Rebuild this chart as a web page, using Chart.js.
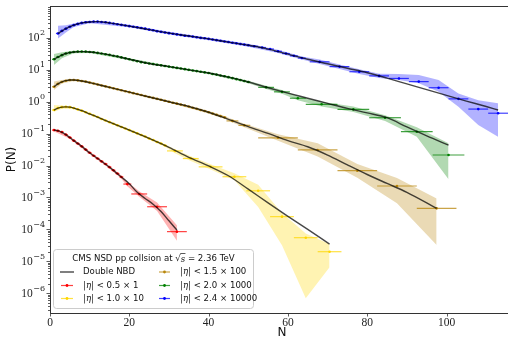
<!DOCTYPE html>
<html>
<head>
<meta charset="utf-8">
<script src="https://cdn.jsdelivr.net/npm/chart.js@4.4.0/dist/chart.umd.min.js"></script>
<style>
  html, body { margin: 0; padding: 0; background: #fff; }
</style>
</head>
<body>
<canvas id="myChart" width="512" height="339"></canvas>
<script>
// integer N positions for the dense (bin width 1) part of each series
const range = (a, b) => { const r = []; for (let n = a; n <= b; n++) r.push(n); return r; };
const dense = (k) => Array(k).fill(0.5);

// |eta| < 0.5  x 1
const redN = range(1, 18).concat([19.5, 22.5, 27, 32]);
const redP = [0.129, 0.123, 0.112, 0.0933, 0.0759, 0.0603, 0.0490, 0.0398, 0.0316, 0.0251,
  0.0204, 0.0166, 0.0135, 0.0112, 0.00891, 0.00708, 0.00562, 0.00437,
  0.00263, 0.00129, 0.000513, 0.0000851];
const redErr = dense(18).concat([1, 2, 2.5, 2.5]);
const redFitN = [1, 2, 3, 4, 6, 8, 10, 12, 14, 16, 18, 20, 22, 24, 26, 28, 30, 32];
const redFitP = [0.129, 0.123, 0.110, 0.0933, 0.0603, 0.0398, 0.0251, 0.0166, 0.0110, 0.00708,
  0.00437, 0.00269, 0.00145, 0.000933, 0.000617, 0.000363, 0.000186, 0.0000955];
const redBandN = [1, 5, 10, 15, 18, 19.5, 22.5, 27, 32];
const redLo = [0.117, 0.0692, 0.0229, 0.00813, 0.00389, 0.00224, 0.00105, 0.000380, 0.0000437];
const redHi = [0.141, 0.0832, 0.0275, 0.00977, 0.00490, 0.00309, 0.00158, 0.000692, 0.000135];

// |eta| < 1.0  x 10
const yelN = range(1, 29).concat([31.5, 35.5, 40.5, 46.5, 52.5, 58.5, 64.5, 70.5]);
const yelP = [0.550, 0.631, 0.676, 0.692, 0.676, 0.631, 0.575, 0.525, 0.468, 0.417,
  0.372, 0.331, 0.288, 0.257, 0.229, 0.204, 0.182, 0.162, 0.145, 0.129,
  0.115, 0.102, 0.0912, 0.0813, 0.0708, 0.0631, 0.0550, 0.0490, 0.0427,
  0.0288, 0.0166, 0.00912, 0.00447, 0.00162, 0.000251, 0.0000550, 0.0000200];
const yelErr = dense(29).concat([2, 2, 3, 3, 3, 3, 3, 3]);
const yelFitN = [1, 2, 3, 4, 5, 6, 8, 10, 12, 15, 20, 25, 30, 35, 40, 45, 50, 55, 60, 65, 70.5];
const yelFitP = [0.550, 0.631, 0.676, 0.692, 0.676, 0.631, 0.525, 0.417, 0.331, 0.229, 0.129,
  0.0708, 0.0372, 0.0182, 0.00977, 0.00479, 0.00182, 0.000676, 0.000257, 0.000100, 0.0000347];
const yelBandN = [1, 3, 6, 10, 15, 20, 25, 29, 31.5, 35.5, 40.5, 46.5, 52.5, 58.5, 64.5, 70.5];
const yelLo = [0.490, 0.603, 0.589, 0.389, 0.214, 0.120, 0.0661, 0.0389, 0.0245, 0.0138,
  0.00759, 0.00347, 0.000501, 0.0000316, 0.000000692, 0.00000646];
const yelHi = [0.794, 0.759, 0.676, 0.447, 0.245, 0.138, 0.0759, 0.0468, 0.0324, 0.0195,
  0.0110, 0.00575, 0.00251, 0.000324, 0.0000741, 0.0000347];

// |eta| < 1.5  x 100
const tanN = range(1, 44).concat([46, 49, 57.5, 67.5, 77.5, 87.5, 97.5]);
const tanP = [2.95, 3.63, 4.17, 4.57, 4.79, 4.79, 4.68, 4.47, 4.27, 3.98,
  3.72, 3.47, 3.24, 3.02, 2.82, 2.63, 2.45, 2.29, 2.14, 2.00,
  1.86, 1.74, 1.62, 1.51, 1.41, 1.32, 1.23, 1.15, 1.07, 1.00,
  0.933, 0.871, 0.813, 0.759, 0.708, 0.646, 0.603, 0.550, 0.513, 0.468,
  0.427, 0.389, 0.355, 0.324,
  0.251, 0.182, 0.0741, 0.0309, 0.00692, 0.00229, 0.000457];
const tanErr = dense(44).concat([1.5, 1.5, 5, 5, 5, 5, 5]);
const tanFitN = [1, 2, 3, 4, 5, 6, 8, 10, 12, 15, 20, 25, 30, 35, 40, 45, 50, 55, 60, 65, 70, 75, 80, 85, 90, 97.5];
const tanFitP = [2.95, 3.63, 4.17, 4.57, 4.79, 4.79, 4.47, 3.98, 3.47, 2.82, 2.00, 1.41, 1.00,
  0.708, 0.468, 0.282, 0.166, 0.102, 0.0603, 0.0389, 0.0214, 0.0105, 0.00525, 0.00275, 0.00145, 0.000457];
const tanBandN = [1, 3, 6, 10, 20, 30, 40, 44, 46, 49, 57.5, 67.5, 77.5, 87.5, 97.5];
const tanLo = [2.34, 3.72, 4.47, 3.72, 1.86, 0.933, 0.427, 0.295, 0.224, 0.158, 0.0603, 0.0191, 0.00417, 0.000661, 0.0000324];
const tanHi = [4.27, 4.79, 5.25, 4.37, 2.14, 1.07, 0.513, 0.355, 0.282, 0.204, 0.0955, 0.0501, 0.0112, 0.00407, 0.000933];

// |eta| < 2.0  x 1000
const grnN = range(1, 50).concat([54.5, 58.5, 62.5, 68.5, 76.5, 84.5, 92.5, 100.5]);
const grnP = [21.4, 25.1, 28.8, 32.4, 34.7, 36.3, 37.2, 37.2, 37.2, 36.3,
  35.5, 33.9, 32.4, 30.9, 29.5, 27.5, 26.3, 24.5, 22.9, 21.4,
  20.0, 18.6, 17.4, 16.6, 15.8, 15.1, 14.5, 13.8, 13.2, 12.6,
  12.0, 11.5, 11.0, 10.5, 10.0, 9.55, 9.12, 8.71, 8.32, 7.94,
  7.41, 7.08, 6.61, 6.31, 5.89, 5.50, 5.13, 4.79, 4.47, 4.17,
  2.82, 2.04, 1.29, 0.832, 0.575, 0.316, 0.115, 0.0214];
const grnErr = dense(50).concat([2, 2, 2, 4, 4, 4, 4, 4]);
const grnFitN = [1, 2, 3, 4, 5, 6, 8, 10, 12, 15, 20, 25, 30, 35, 40, 45, 50, 55, 60, 65, 70, 75, 80, 85, 90, 95, 100.5];
const grnFitP = [21.4, 25.1, 28.8, 32.4, 34.7, 36.3, 37.2, 36.3, 33.9, 29.5, 21.4, 15.8, 12.6,
  10.0, 7.94, 5.89, 4.17, 2.75, 1.86, 1.29, 0.891, 0.617, 0.447, 0.316, 0.162, 0.0851, 0.0437];
const grnBandN = [1, 3, 6, 10, 20, 30, 40, 50, 54.5, 58.5, 62.5, 68.5, 76.5, 84.5, 92.5, 100.5];
const grnLo = [14.1, 22.9, 33.1, 33.9, 20.0, 11.7, 7.41, 3.80, 2.51, 1.78, 1.12, 0.708, 0.479, 0.251, 0.0794, 0.00372];
const grnHi = [31.6, 35.5, 39.8, 38.9, 22.9, 13.5, 8.51, 4.57, 3.16, 2.34, 1.51, 1.00, 0.708, 0.380, 0.158, 0.0501];

// |eta| < 2.4  x 10000
const bluN = range(2, 50).concat([51.5, 53.5, 55.5, 57.5, 59.5, 61.5, 63.5, 68, 73, 78, 83, 88, 93, 98, 103, 108, 113]);
const bluP = [138, 166, 195, 224, 251, 275, 295, 309, 316,
  324, 324, 316, 309, 295, 282, 269, 257, 245, 234,
  224, 214, 204, 195, 182, 174, 162, 155, 148, 141,
  135, 129, 123, 117, 115, 110, 105, 100, 97.7, 93.3,
  89.1, 85.1, 81.3, 77.6, 74.1, 70.8, 67.6, 64.6, 61.7, 58.9,
  55.0, 50.1, 44.7, 38.0, 32.4, 27.5, 23.4,
  17.8, 12.6, 8.71, 6.46, 5.37, 4.27, 2.75, 1.23, 0.589, 0.437];
const bluErr = dense(49).concat([1, 1, 1, 1, 1, 1, 1, 2.5, 2.5, 2.5, 2.5, 2.5, 2.5, 2.5, 2.5, 2.5, 2.5]);
const bluFitN = [2, 4, 6, 8, 10, 12, 15, 20, 25, 30, 35, 40, 45, 50, 55, 60, 65, 70, 75, 80, 85, 90, 95, 100, 105, 110, 113];
const bluFitP = [138, 195, 251, 295, 316, 324, 295, 234, 182, 141, 115, 93.3, 74.1, 58.9, 44.7,
  30.9, 21.4, 15.5, 11.2, 8.13, 5.50, 3.63, 2.40, 1.58, 1.05, 0.708, 0.550];
const bluBandN = [2, 4, 6, 10, 20, 30, 40, 50, 57.5, 63.5, 68, 73, 78, 83, 88, 93, 98, 103, 108, 113];
const bluLo = [95.5, 148, 219, 288, 214, 129, 85.1, 52.5, 33.9, 20.9, 15.1, 10.7, 7.41, 5.50, 4.79, 3.80, 2.04, 0.692, 0.186, 0.0794];
const bluHi = [240, 251, 282, 347, 257, 155, 102, 66.1, 42.7, 26.3, 20.9, 14.8, 10.5, 7.59, 7.41, 6.92, 4.79, 1.82, 1.12, 0.891];

const xTicks = [0, 20, 40, 60, 80, 100];
const yTicks = [1e-6, 1e-5, 1e-4, 1e-3, 1e-2, 1e-1, 1e0, 1e1, 1e2];
const legendTitle = "CMS NSD pp collsion at ";
const fitLabel = "Double NBD";

const series = [
  { label: "< 0.5 \u00d7 1", rgb: "255,0,0", N: redN, P: redP, err: redErr, fitN: redFitN, fitP: redFitP, bandN: redBandN, lo: redLo, hi: redHi },
  { label: "< 1.0 \u00d7 10", rgb: "255,215,0", N: yelN, P: yelP, err: yelErr, fitN: yelFitN, fitP: yelFitP, bandN: yelBandN, lo: yelLo, hi: yelHi },
  { label: "< 1.5 \u00d7 100", rgb: "184,134,11", N: tanN, P: tanP, err: tanErr, fitN: tanFitN, fitP: tanFitP, bandN: tanBandN, lo: tanLo, hi: tanHi },
  { label: "< 2.0 \u00d7 1000", rgb: "0,128,0", N: grnN, P: grnP, err: grnErr, fitN: grnFitN, fitP: grnFitP, bandN: grnBandN, lo: grnLo, hi: grnHi },
  { label: "< 2.4 \u00d7 10000", rgb: "0,0,255", N: bluN, P: bluP, err: bluErr, fitN: bluFitN, fitP: bluFitP, bandN: bluBandN, lo: bluLo, hi: bluHi },
];

const pts = (xs, ys) => xs.map((x, i) => ({ x: x, y: ys[i] }));

const datasets = [];
series.forEach(s => {
  datasets.push({
    type: "line", data: pts(s.fitN, s.fitP), borderColor: "rgba(0,0,0,0.72)", borderWidth: 1.4,
    pointRadius: 0, cubicInterpolationMode: "monotone", fill: false, order: 0
  });
  datasets.push({
    type: "scatter", data: pts(s.N, s.P), backgroundColor: "rgb(" + s.rgb + ")", borderWidth: 0,
    pointRadius: 1.3, xerr: s.err, barColor: "rgba(" + s.rgb + ",0.75)", order: 1
  });
  datasets.push({
    type: "line", data: pts(s.bandN, s.lo), borderWidth: 0, pointRadius: 0, fill: false, order: 2
  });
  datasets.push({
    type: "line", data: pts(s.bandN, s.hi), borderWidth: 0, pointRadius: 0, fill: "-1",
    backgroundColor: "rgba(" + s.rgb + ",0.3)", order: 2
  });
});

// horizontal error bars, drawn under the markers
const errorBars = {
  id: "errorBars",
  beforeDatasetDraw(chart, args) {
    const ds = chart.data.datasets[args.index];
    if (!ds.xerr) return;
    const { ctx, chartArea: a } = chart;
    const xs = chart.scales.x, ys = chart.scales.y;
    ctx.save();
    ctx.beginPath();
    ctx.rect(a.left, a.top, a.right - a.left, a.bottom - a.top);
    ctx.clip();
    ctx.strokeStyle = ds.barColor;
    ctx.lineWidth = 1.2;
    ds.data.forEach((p, i) => {
      const y = ys.getPixelForValue(p.y);
      ctx.beginPath();
      ctx.moveTo(xs.getPixelForValue(p.x - ds.xerr[i]), y);
      ctx.lineTo(xs.getPixelForValue(p.x + ds.xerr[i]), y);
      ctx.stroke();
    });
    ctx.restore();
  }
};

// spines, tick marks, log tick labels and axis titles
const axesDeco = {
  id: "axesDeco",
  afterDraw(chart) {
    const { ctx, chartArea: a } = chart;
    const xs = chart.scales.x, ys = chart.scales.y;
    ctx.save();
    ctx.strokeStyle = "#333";
    ctx.lineWidth = 1;
    ctx.beginPath();
    ctx.moveTo(a.left + 0.5, a.top + 0.5);
    ctx.lineTo(a.right, a.top + 0.5);
    ctx.moveTo(a.left + 0.5, a.top);
    ctx.lineTo(a.left + 0.5, a.bottom + 0.5);
    ctx.lineTo(a.right, a.bottom + 0.5);
    ctx.stroke();

    ctx.lineWidth = 0.8;
    ctx.beginPath();
    xTicks.forEach(v => {
      const x = Math.round(xs.getPixelForValue(v)) + 0.5;
      ctx.moveTo(x, a.bottom);
      ctx.lineTo(x, a.bottom + 3.5);
    });
    for (let e = -7; e <= 2; e++) {
      for (let m = 1; m <= 9; m++) {
        const v = m * Math.pow(10, e);
        if (v < ys.min || v > ys.max) continue;
        const y = Math.round(ys.getPixelForValue(v)) + 0.5;
        const len = m === 1 ? 3.5 : 2;
        ctx.moveTo(a.left, y);
        ctx.lineTo(a.left - len, y);
      }
    }
    ctx.stroke();

    // y labels 10^n
    ctx.fillStyle = "#222";
    ctx.textBaseline = "middle";
    yTicks.forEach(v => {
      const y = ys.getPixelForValue(v);
      const ex = String(Math.round(Math.log10(v))).replace("-", "\u2212");
      ctx.font = "8px 'DejaVu Serif', serif";
      ctx.textAlign = "right";
      const right = a.left - 5;
      const ew = ctx.measureText(ex).width;
      ctx.fillText(ex, right, y - 4.5);
      ctx.font = "11.5px 'Liberation Serif', serif";
      ctx.fillText("10", right - ew - 0.5, y + 0.5);
    });

    // axis titles
    ctx.font = "12px 'DejaVu Sans', sans-serif";
    ctx.textAlign = "center";
    ctx.fillStyle = "#111";
    ctx.fillText("N", 282, 332.5);
    ctx.save();
    ctx.translate(12, (a.top + a.bottom) / 2);
    ctx.rotate(-Math.PI / 2);
    ctx.fillText("P(N)", 0, 0);
    ctx.restore();
    ctx.restore();
  }
};

const legendBox = {
  id: "legendBox",
  afterDraw(chart) {
    const ctx = chart.ctx;
    const bx = 53.5, by = 249.5, bw = 200, bh = 59, r = 3;
    ctx.save();
    ctx.beginPath();
    ctx.moveTo(bx + r, by);
    ctx.arcTo(bx + bw, by, bx + bw, by + bh, r);
    ctx.arcTo(bx + bw, by + bh, bx, by + bh, r);
    ctx.arcTo(bx, by + bh, bx, by, r);
    ctx.arcTo(bx, by, bx + bw, by, r);
    ctx.closePath();
    ctx.fillStyle = "rgba(255,255,255,0.85)";
    ctx.fill();
    ctx.strokeStyle = "#cccccc";
    ctx.lineWidth = 1;
    ctx.stroke();

    // title with sqrt(s)
    ctx.fillStyle = "#111";
    ctx.textBaseline = "middle";
    ctx.font = "8.6px 'DejaVu Sans', sans-serif";
    const t1 = legendTitle, t3 = " = 2.36 TeV";
    const w1 = ctx.measureText(t1).width, w3 = ctx.measureText(t3).width;
    ctx.font = "italic 8.6px 'DejaVu Serif', serif";
    const wr = ctx.measureText("\u221As").width;
    const ws = ctx.measureText("s").width;
    let x = bx + bw / 2 - (w1 + wr + w3) / 2;
    const ty = 259;
    ctx.font = "8.6px 'DejaVu Sans', sans-serif";
    ctx.textAlign = "left";
    ctx.fillText(t1, x, ty);
    x += w1;
    ctx.font = "8.6px 'DejaVu Serif', serif";
    ctx.fillText("\u221A", x, ty);
    ctx.font = "italic 8.6px 'DejaVu Serif', serif";
    ctx.fillText("s", x + wr - ws, ty + 0.5);
    ctx.strokeStyle = "#111";
    ctx.lineWidth = 0.7;
    ctx.beginPath();
    ctx.moveTo(x + wr - ws - 0.5, ty - 5.5);
    ctx.lineTo(x + wr + 0.3, ty - 5.5);
    ctx.stroke();
    x += wr;
    ctx.font = "8.6px 'DejaVu Sans', sans-serif";
    ctx.fillText(t3, x, ty);

    const rows = [272, 285.5, 298.5];
    const cols = [{ h0: 60, h1: 74, t: 83 }, { h0: 158, h1: 171, t: 180 }];
    const items = [{ fit: true }].concat(series);
    items.forEach((it, k) => {
      const c = cols[Math.floor(k / 3)], y = rows[k % 3];
      if (it.fit) {
        ctx.strokeStyle = "rgba(0,0,0,0.72)";
        ctx.lineWidth = 1.4;
        ctx.beginPath();
        ctx.moveTo(c.h0, y);
        ctx.lineTo(c.h1, y);
        ctx.stroke();
        ctx.font = "8.6px 'DejaVu Sans', sans-serif";
        ctx.fillStyle = "#111";
        ctx.fillText(fitLabel, c.t, y);
        return;
      }
      ctx.strokeStyle = "rgba(" + it.rgb + ",0.75)";
      ctx.lineWidth = 1.2;
      ctx.beginPath();
      ctx.moveTo(c.h0 + 1, y);
      ctx.lineTo(c.h1 - 1, y);
      ctx.stroke();
      ctx.fillStyle = "rgb(" + it.rgb + ")";
      ctx.beginPath();
      ctx.arc((c.h0 + c.h1) / 2, y, 1.4, 0, Math.PI * 2);
      ctx.fill();
      ctx.fillStyle = "#111";
      ctx.font = "italic 8.6px 'DejaVu Serif', serif";
      const eta = "|\u03B7|";
      ctx.fillText(eta, c.t, y);
      const we = ctx.measureText(eta).width;
      ctx.font = "8.6px 'DejaVu Sans', sans-serif";
      ctx.fillText(" " + it.label, c.t + we, y);
    });
    ctx.restore();
  }
};

new Chart(document.getElementById("myChart"), {
  type: "scatter",
  data: { datasets: datasets },
  plugins: [errorBars, axesDeco, legendBox],
  options: {
    responsive: false,
    animation: false,
    layout: { padding: { top: 6, right: 0, left: 0, bottom: 0 } },
    plugins: { legend: { display: false }, tooltip: { enabled: false } },
    scales: {
      x: {
        type: "linear",
        min: 0,
        max: 115.5,
        grid: { display: false, drawTicks: false },
        border: { display: false },
        afterBuildTicks: (scale) => { scale.ticks = xTicks.map(v => ({ value: v })); },
        afterFit: (scale) => { scale.height = 26; },
        ticks: {
          padding: 3,
          color: "#222",
          maxRotation: 0,
          font: { family: "'Liberation Serif', serif", size: 11.5 }
        }
      },
      y: {
        type: "logarithmic",
        min: 2.4e-7,
        max: 1e3,
        grid: { display: false, drawTicks: false },
        border: { display: false },
        afterBuildTicks: (scale) => { scale.ticks = yTicks.map(v => ({ value: v })); },
        afterFit: (scale) => { scale.width = 50; },
        ticks: { display: false }
      }
    }
  }
});
</script>
</body>
</html>
